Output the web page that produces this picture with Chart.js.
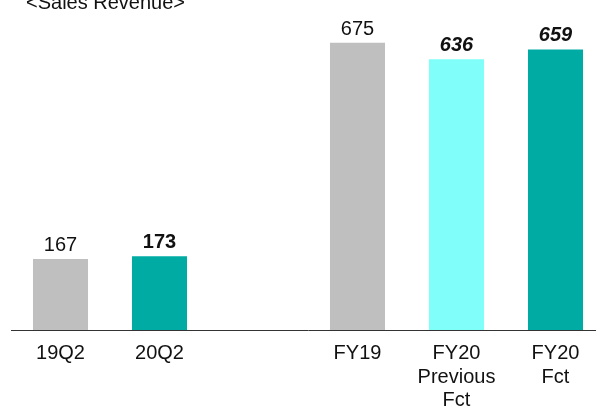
<!DOCTYPE html>
<html>
<head>
<meta charset="utf-8">
<script src="https://cdn.jsdelivr.net/npm/chart.js@4/dist/chart.umd.min.js"></script>
<style>
    html, body { margin: 0; padding: 0; background: #fff; overflow: hidden; }
    #wrap { position: relative; width: 605px; height: 410px; }
    #title {
        position: absolute; left: 26px; top: -9px;
        font-family: 'Liberation Sans', Arial, sans-serif; font-size: 20px; color: #111;
    }
</style>
</head>
<body>
<div id="wrap">
    <canvas id="revenueChart" width="605" height="410"></canvas>
    <div id="title">&lt;Sales Revenue&gt;</div>
</div>
<script>
const categories = [['19Q2'], ['20Q2'], [''], ['FY19'], ['FY20', 'Previous', 'Fct'], ['FY20', 'Fct']];
const revenue = [167, 173, null, 675, 636, 659];
const barColors = ['#BFBFBF', '#00ABA3', '#FFFFFF', '#BFBFBF', '#80FFFA', '#00ABA3'];
const labelStyles = ['normal', 'bold', 'normal', 'normal', 'italic bold', 'italic bold'];

// etiquetas de valor encima de cada barra
const valueLabels = {
    id: 'valueLabels',
    afterDatasetsDraw(chart) {
        const ctx = chart.ctx;
        const meta = chart.getDatasetMeta(0);
        ctx.save();
        ctx.fillStyle = '#111';
        ctx.textAlign = 'center';
        ctx.textBaseline = 'alphabetic';
        meta.data.forEach((bar, i) => {
            const v = revenue[i];
            if (v === null) return;
            ctx.font = labelStyles[i] + ' 20px "Liberation Sans", Arial, sans-serif';
            ctx.fillText(String(v), bar.x, bar.y - 8);
        });
        ctx.restore();
    }
};

const ctx = document.getElementById('revenueChart').getContext('2d');
new Chart(ctx, {
    type: 'bar',
    data: {
        labels: categories,
        datasets: [{
            data: revenue,
            backgroundColor: barColors,
            borderWidth: 0,
            barPercentage: 0.556,
            categoryPercentage: 1.0
        }]
    },
    options: {
        responsive: false,
        animation: false,
        layout: { padding: { left: 11, right: 0, top: 32, bottom: 0 } },
        plugins: {
            legend: { display: false },
            tooltip: { enabled: false }
        },
        scales: {
            y: {
                display: false,
                min: 0,
                max: 700
            },
            x: {
                grid: { display: false, drawTicks: false },
                border: { display: true, color: '#333', width: 1 },
                ticks: {
                    color: '#111',
                    padding: 12,
                    maxRotation: 0,
                    autoSkip: false,
                    font: { family: '"Liberation Sans", Arial, sans-serif', size: 20, lineHeight: 1.17 }
                },
                afterFit(scale) { scale.height = 80; }
            }
        }
    },
    plugins: [valueLabels]
});
</script>
</body>
</html>
